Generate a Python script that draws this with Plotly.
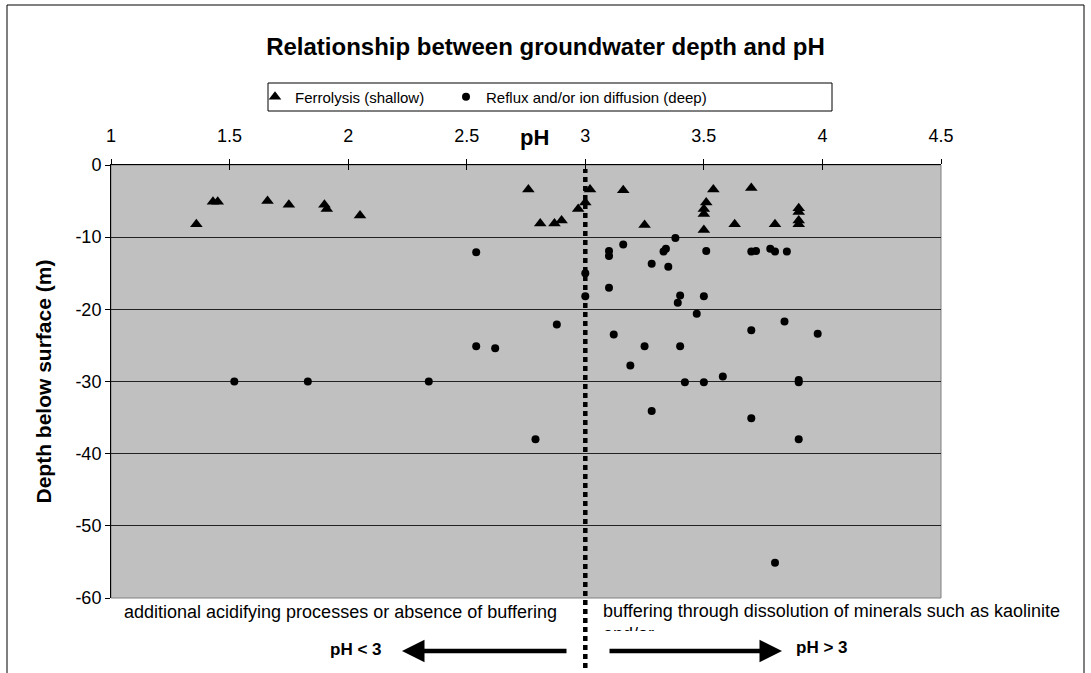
import plotly.graph_objects as go

# ---- data ----
ferro_ph = [1.36, 1.43, 1.45, 1.66, 1.75, 1.90, 1.91, 2.05, 2.76, 2.81, 2.87, 2.90,
            2.97, 3.00, 3.02, 3.16, 3.25, 3.50, 3.50, 3.50, 3.51, 3.54, 3.63, 3.70,
            3.80, 3.90, 3.90, 3.90, 3.90]
ferro_depth = [-8.2, -5.1, -5.1, -5.0, -5.5, -5.5, -6.1, -7.0, -3.4, -8.1, -8.1, -7.7,
               -6.1, -5.2, -3.4, -3.5, -8.3, -6.1, -6.8, -9.0, -5.2, -3.4, -8.2, -3.2,
               -8.2, -6.0, -6.5, -7.7, -8.2]

reflux_ph = [1.52, 1.83, 2.34, 2.54, 2.54, 2.62, 2.79, 2.88, 3.00, 3.00, 3.10, 3.10,
             3.10, 3.12, 3.16, 3.19, 3.25, 3.28, 3.28, 3.33, 3.34, 3.35, 3.38, 3.39,
             3.40, 3.40, 3.42, 3.47, 3.50, 3.50, 3.51, 3.58, 3.70, 3.70, 3.70, 3.72,
             3.78, 3.80, 3.80, 3.84, 3.85, 3.90, 3.90, 3.90, 3.98]
reflux_depth = [-30, -30, -30, -12.1, -25.1, -25.4, -38, -22.1, -15, -18.2, -11.9, -12.6,
                -17, -23.5, -11, -27.8, -25.1, -13.7, -34.1, -12, -11.6, -14.1, -10.1, -19.1,
                -18.1, -25.1, -30.1, -20.6, -18.2, -30.1, -11.9, -29.3, -12, -22.9, -35.1, -11.9,
                -11.6, -12, -55.1, -21.7, -12, -29.8, -30.1, -38, -23.4]

x_tick_vals = [1, 1.5, 2, 2.5, 3, 3.5, 4, 4.5]
x_tick_text = ["1", "1.5", "2", "2.5", "3", "3.5", "4", "4.5"]
y_tick_vals = [0, -10, -20, -30, -40, -50, -60]
y_tick_text = ["0", "-10", "-20", "-30", "-40", "-50", "-60"]
threshold_ph = 3

series_names = ["Ferrolysis (shallow)", "Reflux and/or ion diffusion (deep)"]
title_text = "Relationship between groundwater depth and pH"
left_note = "additional acidifying processes or absence of buffering"
right_note = "buffering through dissolution of minerals such as kaolinite<br>and/or"

FONT = "Arial, Liberation Sans, sans-serif"
W, H = 1091, 673
L, R, T, B = 111, 150, 165, 75
PW, PH = W - L - R, H - T - B


def px(xp):
    return (xp - L) / PW


def py(yp):
    return (H - B - yp) / PH


fig = go.Figure()
fig.add_trace(go.Scatter(x=ferro_ph, y=ferro_depth, mode="markers", name=series_names[0],
                         legend="legend",
                         marker=dict(symbol="triangle-up", size=11, color="black")))
fig.add_trace(go.Scatter(x=reflux_ph, y=reflux_depth, mode="markers", name=series_names[1],
                         legend="legend2",
                         marker=dict(symbol="circle", size=8, color="black")))
# invisible trace on overlay axis for crossing ticks
fig.add_trace(go.Scatter(x=[x_tick_vals[0]], y=[y_tick_vals[0]], xaxis="x2", mode="markers",
                         marker=dict(opacity=0), showlegend=False, hoverinfo="skip"))

legend_common = dict(orientation="h", yanchor="middle", y=py(97), xanchor="left",
                     bgcolor="rgba(0,0,0,0)", borderwidth=0, itemwidth=30,
                     font=dict(size=15, family=FONT, color="black"))

fig.update_layout(
    width=W, height=H,
    margin=dict(l=L, r=R, t=T, b=B, autoexpand=False),
    paper_bgcolor="white", plot_bgcolor="#C0C0C0",
    font=dict(family=FONT, color="black"),
    title=dict(text="<b>" + title_text + "</b>", x=0.5, xref="container", xanchor="center",
               y=1 - 47 / H, yref="container", yanchor="middle",
               font=dict(size=24, family=FONT, color="black")),
    xaxis=dict(side="top", range=[1, 4.5], tickvals=x_tick_vals, ticktext=x_tick_text,
               showgrid=False, zeroline=False, showline=True, linecolor="black", linewidth=1,
               ticks="outside", ticklen=5, tickcolor="black", ticklabelstandoff=10,
               automargin=False,
               tickfont=dict(size=18, family=FONT, color="black")),
    xaxis2=dict(side="top", range=[1, 4.5], overlaying="x", matches="x", tickvals=x_tick_vals,
                showticklabels=False, showgrid=False, zeroline=False, showline=False,
                ticks="inside", ticklen=5, tickcolor="black"),
    yaxis=dict(range=[-60, 0], tickvals=y_tick_vals, ticktext=y_tick_text,
               showgrid=True, gridcolor="#222222", gridwidth=1, zeroline=False,
               showline=True, linecolor="black", linewidth=1, automargin=False,
               ticks="outside", ticklen=5, tickcolor="black",
               tickfont=dict(size=18, family=FONT, color="black")),
    legend=dict(legend_common, x=px(255)),
    legend2=dict(legend_common, x=px(446)),
    showlegend=True,
)

shapes = [
    # plot-area outline
    dict(type="rect", xref="x domain", yref="y domain", x0=0, x1=1, y0=0, y1=1,
         line=dict(color="#808080", width=1), layer="below"),
    # legend frame
    dict(type="rect", xref="paper", yref="paper", x0=px(268), x1=px(832), y0=py(111), y1=py(83),
         line=dict(color="black", width=1), fillcolor="white", layer="below"),
    # chart outer frame
    dict(type="rect", xref="paper", yref="paper", x0=px(7), x1=px(1084), y0=py(700), y1=py(5),
         line=dict(color="black", width=1), layer="below"),
    # pH = 3 threshold
    dict(type="line", xref="x", yref="paper", x0=threshold_ph, x1=threshold_ph,
         y0=py(668), y1=py(169), line=dict(color="black", width=4.5, dash="5px,4px")),
]
fig.update_layout(shapes=shapes)

ann = [
    dict(text="<b>pH</b>", xref="paper", yref="paper", x=px(534), y=py(137), showarrow=False,
         xanchor="center", yanchor="middle",
         font=dict(size=22, family=FONT, color="black")),
    dict(text="<b>Depth below surface (m)</b>", xref="paper", yref="paper", x=px(43), y=0.5,
         xanchor="center", yanchor="middle",
         textangle=-90, showarrow=False, font=dict(size=21, family=FONT, color="black")),
    dict(text=left_note, xref="paper", yref="paper", x=px(122), y=py(612), xanchor="left",
         yanchor="middle", showarrow=False, font=dict(size=18, family=FONT, color="black")),
    dict(text=right_note, xref="paper", yref="paper", x=px(602), y=py(600), xanchor="left",
         yanchor="top", showarrow=False, align="left", valign="top", width=480, height=30,
         borderpad=0, font=dict(size=18, family=FONT, color="black")),
    dict(text="<b>pH &lt; 3</b>", xref="paper", yref="paper", x=px(356), y=py(649),
         xanchor="center", yanchor="middle",
         showarrow=False, font=dict(size=17, family=FONT, color="black")),
    dict(text="<b>pH &gt; 3</b>", xref="paper", yref="paper", x=px(822), y=py(647),
         xanchor="center", yanchor="middle",
         showarrow=False, font=dict(size=17, family=FONT, color="black")),
    dict(text="", xref="paper", yref="paper", x=px(402), y=py(651), ax=166, ay=0,
         showarrow=True, arrowhead=2, arrowwidth=4.5, arrowsize=1.0, arrowcolor="black"),
    dict(text="", xref="paper", yref="paper", x=px(782), y=py(651), ax=-174, ay=0,
         showarrow=True, arrowhead=2, arrowwidth=4.5, arrowsize=1.0, arrowcolor="black"),
]
fig.update_layout(annotations=ann)

fig.write_html("out.html", config={"displayModeBar": False},
               post_script="document.body.style.margin='0px';")
